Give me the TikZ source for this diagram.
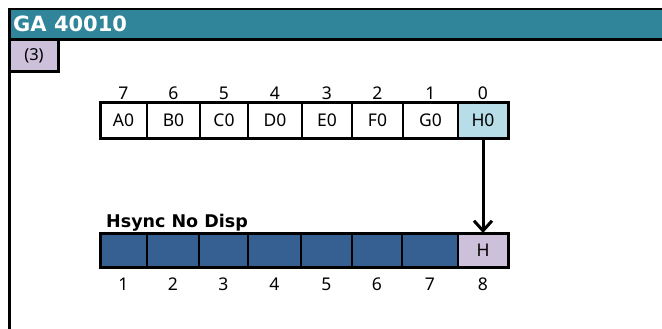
\documentclass[tikz,border=0pt]{standalone}
\usepackage{fontspec}
\setmainfont{Noto Sans}
\newfontfamily\djv{DejaVu Sans}
\usetikzlibrary{arrows.meta}
\definecolor{cTeal}{RGB}{49,133,155}
\definecolor{cLav}{RGB}{204,192,218}
\definecolor{cLBlue}{RGB}{183,222,232}
\definecolor{cNavy}{RGB}{55,96,146}
\begin{document}
\begin{tikzpicture}[x=1pt,y=-1pt,
  frameline/.style={draw=black, line width=2.7pt},
  cell/.style={draw=black, line width=1.8pt, inner sep=0pt, outer sep=0pt, anchor=west,
    font=\fontsize{17.5}{19}\selectfont},
  topcell/.style={cell, minimum height=35pt, fill=white},
  botcell/.style={cell, minimum height=34pt, fill=cNavy},
  bitnum/.style={inner sep=0pt, font=\fontsize{17.5}{19}\selectfont},
  regborder/.style={draw=black, line width=3pt},
  bigarrow/.style={draw=black, line width=3pt, -{Straight Barb[length=10pt,width=18pt,line width=3pt]}}
]
\useasboundingbox (0,0) rectangle (662,329);
\fill[white] (0,0) rectangle (662,329);
\begin{scope}
\clip (0,0) rectangle (662,329);
% frame and title bar
\node[frameline, fill=cTeal, anchor=north west, inner sep=0pt, outer sep=0pt,
  minimum width=700pt, minimum height=30.5pt] (title) at (9.5,9) {};
\node[anchor=base west, inner sep=0pt, text=white, font=\djv\bfseries\fontsize{21}{23}\selectfont] (titletext) at (13,32) {GA 40010};
\coordinate (fbot) at (9.5,340);
\draw[frameline] (title.north west) -- (fbot);
\node[frameline, fill=cLav, anchor=north west, inner sep=0pt, outer sep=0pt,
  minimum width=49pt, minimum height=32pt, font=\fontsize{16.5}{18}\selectfont] (tag) at (9.5,39.5) {(3)};
\end{scope}
% top register
\node[topcell, minimum width=47pt] (t7) at (100,120.5) {A0};
\node[topcell, minimum width=53pt] (t6) at (147,120.5) {B0};
\node[topcell, minimum width=48pt] (t5) at (200,120.5) {C0};
\node[topcell, minimum width=54pt] (t4) at (248,120.5) {D0};
\node[topcell, minimum width=50pt] (t3) at (302,120.5) {E0};
\node[topcell, minimum width=51pt] (t2) at (352,120.5) {F0};
\node[topcell, minimum width=55pt] (t1) at (403,120.5) {G0};
\node[topcell, minimum width=50pt, fill=cLBlue] (t0) at (458,120.5) {H0};
\draw[regborder] (t7.north west) rectangle (t0.south east);
\foreach \i in {0,...,7} {
  \node[bitnum] (tn\i) at ([yshift=27.5pt]t\i.center) {\i};
}
% bottom register
\node[font=\djv\bfseries\fontsize{17.5}{19}\selectfont, anchor=base west, inner sep=0pt] (blabel) at (106,227) {Hsync No Disp};
\node[botcell, minimum width=47pt] (b1) at (100,250) {};
\node[botcell, minimum width=52pt] (b2) at (147,250) {};
\node[botcell, minimum width=49pt] (b3) at (199,250) {};
\node[botcell, minimum width=53pt] (b4) at (248,250) {};
\node[botcell, minimum width=51pt] (b5) at (301,250) {};
\node[botcell, minimum width=50pt] (b6) at (352,250) {};
\node[botcell, minimum width=56pt] (b7) at (402,250) {};
\node[botcell, minimum width=50pt, fill=cLav] (b8) at (458,250) {H};
\draw[regborder] (b1.north west) rectangle (b8.south east);
\foreach \i in {1,...,8} {
  \node[bitnum] (bn\i) at ([yshift=-34pt]b\i.center) {\i};
}
% arrow
\draw[bigarrow] (t0.south) -- (b8.north);
\end{tikzpicture}
\end{document}
